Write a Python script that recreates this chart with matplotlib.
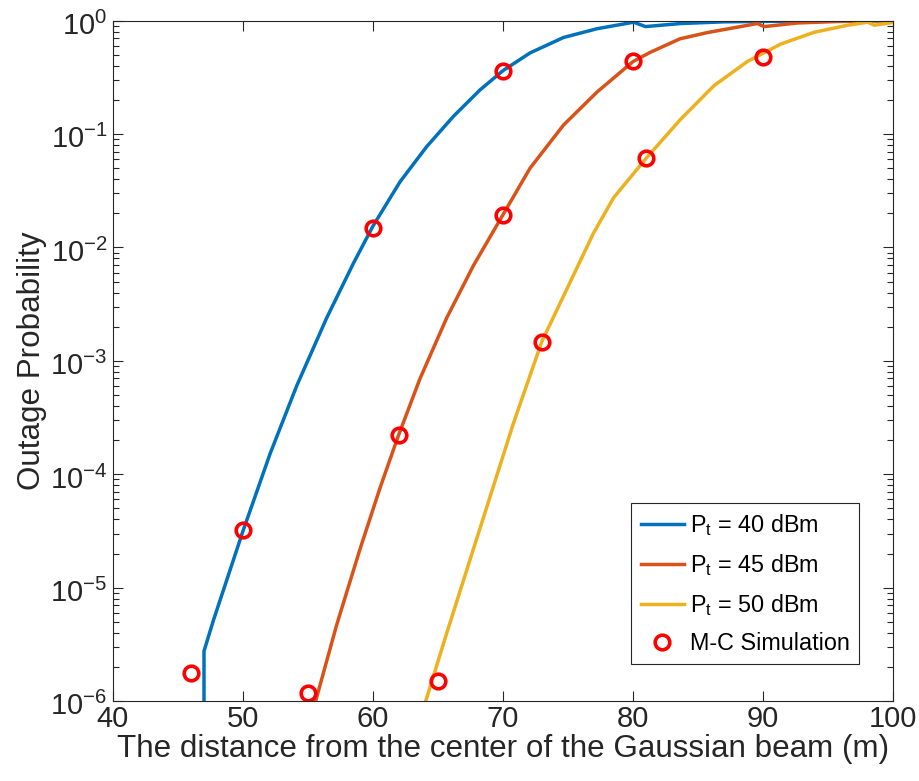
import numpy as np
import matplotlib
matplotlib.use('Agg')
import matplotlib.pyplot as plt
import matplotlib.transforms as mtransforms
from matplotlib.ticker import LogLocator, LogFormatterMathtext, NullFormatter

plt.rcParams['font.family'] = ['Liberation Sans', 'DejaVu Sans']
plt.rcParams['mathtext.fontset'] = 'custom'
plt.rcParams['mathtext.rm'] = 'Liberation Sans'
plt.rcParams['mathtext.it'] = 'Liberation Sans'
plt.rcParams['mathtext.default'] = 'regular'

# analytical curves: distance (m) and log10 of outage probability
d_40 = [47.0, 47.0, 47.72, 50.0, 52.08, 54.13, 56.44, 58.49, 60.0, 62.08, 64.13,
        66.18, 68.23, 70.0, 72.08, 74.65, 77.22, 80.05, 80.95, 83.65, 87.0, 91.0,
        95.0, 100.0]
lg_40 = [-12.0, -5.56, -5.29, -4.50, -3.82, -3.22, -2.62, -2.14, -1.81, -1.42, -1.11,
         -0.844, -0.61, -0.44, -0.284, -0.148, -0.071, -0.013, -0.052, -0.025, -0.01,
         -0.005, -0.002, 0.0]

d_45 = [55.0, 55.54, 57.2, 59.0, 60.54, 61.95, 63.6, 65.67, 67.72, 70.0, 72.08,
        74.65, 77.22, 80.0, 81.3, 83.6, 85.7, 89.56, 90.08, 92.65, 96.0, 100.0]
lg_45 = [-6.2, -6.02, -5.33, -4.66, -4.12, -3.66, -3.16, -2.62, -2.16, -1.71, -1.30,
         -0.92, -0.63, -0.36, -0.28, -0.16, -0.105, -0.025, -0.052, -0.02, -0.006, 0.0]

d_50 = [63.5, 64.0, 65.67, 67.72, 70.8, 72.98, 76.95, 78.51, 81.03, 83.65, 86.22,
        88.79, 91.36, 93.93, 96.5, 98.05, 98.55, 100.0]
lg_50 = [-6.2, -6.02, -5.40, -4.66, -3.55, -2.83, -1.875, -1.56, -1.21, -0.87, -0.573,
         -0.36, -0.206, -0.102, -0.04, -0.013, -0.04, -0.015]

# Monte-Carlo simulation points
mc_d = [46, 50, 60, 70, 55, 62, 70, 80, 65, 73, 81, 90]
mc_p = [1.78e-6, 3.2e-5, 1.5e-2, 0.36, 1.18e-6, 2.2e-4, 1.94e-2, 0.44,
        1.5e-6, 1.47e-3, 6.1e-2, 0.48]

fig = plt.figure(figsize=(9.2, 7.81), dpi=100)
ax = fig.add_axes([0.1228, 0.1024, 0.848, 0.8711])

ax.plot(d_40, 10 ** np.array(lg_40), color='#0072BD', lw=2.5, label=r'P$_{t}$ = 40 dBm')
ax.plot(d_45, 10 ** np.array(lg_45), color='#D95319', lw=2.5, label=r'P$_{t}$ = 45 dBm')
ax.plot(d_50, 10 ** np.array(lg_50), color='#EDB120', lw=2.5, label=r'P$_{t}$ = 50 dBm')
ax.plot(mc_d, mc_p, 'o', ms=10.5, mfc='none', mec='#FF0000', mew=2.6,
        linestyle='none', label='M-C Simulation')

ax.set_yscale('log')
ax.set_xlim(40, 100)
ax.set_ylim(1e-6, 1)
ax.set_xticks([40, 50, 60, 70, 80, 90, 100])
ax.yaxis.set_major_locator(LogLocator(base=10, numticks=10))
ax.yaxis.set_major_formatter(LogFormatterMathtext())
ax.yaxis.set_minor_locator(LogLocator(base=10, subs=np.arange(2, 10), numticks=20))
ax.yaxis.set_minor_formatter(NullFormatter())

ax.tick_params(which='both', direction='in', top=True, right=True, colors='#262626',
               labelsize=21, width=0.8)
ax.tick_params(which='major', length=7)
ax.tick_params(which='minor', length=4)
ax.tick_params(axis='x', pad=3)
ax.tick_params(axis='y', pad=4)
for s in ax.spines.values():
    s.set_color('#262626')
    s.set_linewidth(0.8)

# MATLAB puts the "10" of each label slightly below its tick
shift = mtransforms.ScaledTranslation(0, -2 / 72, fig.dpi_scale_trans)
for lbl in ax.get_yticklabels():
    lbl.set_transform(lbl.get_transform() + shift)

ax.set_xlabel('The distance from the center of the Gaussian beam (m)', fontsize=22.6,
              color='#262626')
ax.set_ylabel('Outage Probability', fontsize=22.6, color='#262626')
ax.xaxis.set_label_coords(0.5, -0.048)
ax.yaxis.set_label_coords(-0.085, 0.5)

leg = ax.legend(loc='lower right', bbox_to_anchor=(0.956, 0.054), borderaxespad=0,
                fontsize=16.8, fancybox=False, edgecolor='#262626', framealpha=1,
                handlelength=1.85, handletextpad=0.25, labelspacing=0.6)
leg.get_frame().set_linewidth(0.8)

fig.savefig('out.png', dpi=100)
